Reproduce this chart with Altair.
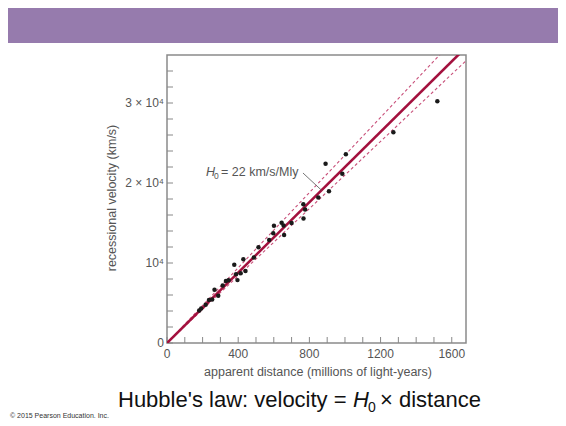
import altair as alt
import pandas as pd

# ---- data ----
distance = [181, 192, 217, 236, 254, 267, 288, 313, 331, 346,
            378, 388, 396, 414, 429, 441, 488, 514, 574, 597,
            601, 644, 655, 658, 700, 766, 776, 767, 850, 910,
            891, 985, 1005, 1272, 1519]
velocity = [4050, 4300, 4790, 5380, 5440, 6650, 5900, 7190, 7750, 7850,
            9770, 8600, 7860, 8710, 10460, 9000, 10690, 11980, 12870, 13710,
            14650, 15040, 14700, 13500, 15000, 17340, 16680, 15560, 18180, 18960,
            22400, 21150, 23590, 26340, 30210]

h0_fit = 22.0
h0_band = [21.0, 23.5]
line_ends = [0, 1680]

x_label_values = [0, 400, 800, 1200, 1600]
x_label_text = ["0", "400", "800", "1200", "1600"]
x_minor_ticks = list(range(0, 1700, 100))
y_label_values = [0, 10000, 20000, 30000]
y_label_text = ["0", "10⁴", "2 × 10⁴", "3 × 10⁴"]
y_minor_ticks = list(range(0, 36000, 2000))

x_title = "apparent distance (millions of light-years)"
y_title = "recessional velocity (km/s)"

ann_pos = [219, 21375]
leader_from = [764, 21250]
leader_to = [868, 19100]

x_domain = [0, 1680]
y_domain = [0, 36000]

FONT = "Liberation Sans"
GRAY = "#555555"

xs = alt.Scale(domain=x_domain, nice=False, zero=True)
ys = alt.Scale(domain=y_domain, nice=False, zero=True)

pts = pd.DataFrame({"d": distance, "v": velocity})

fit_df = pd.DataFrame({"d": line_ends, "v": [h0_fit * d for d in line_ends]})
band_rows = []
for k, s in enumerate(h0_band):
    for d in line_ends:
        band_rows.append({"d": d, "v": s * d, "k": k})
band_df = pd.DataFrame(band_rows)

one = pd.DataFrame({"a": [0]})

X = lambda f: alt.X(f, scale=xs, axis=None)
Y = lambda f: alt.Y(f, scale=ys, axis=None)

band = alt.Chart(one).mark_rect(color="#967bad").encode(
    x=alt.value(-159), x2=alt.value(391), y=alt.value(-47), y2=alt.value(-12)
)

xticks = alt.Chart(pd.DataFrame({"t": x_minor_ticks})).mark_rule(color="#888888", strokeWidth=1).encode(
    x=X("t:Q"), y=alt.value(288), y2=alt.value(282)
)
yticks = alt.Chart(pd.DataFrame({"t": y_minor_ticks})).mark_rule(color="#888888", strokeWidth=1).encode(
    y=Y("t:Q"), x=alt.value(0), x2=alt.value(6)
)

xlabels = alt.Chart(pd.DataFrame({"t": x_label_values, "s": x_label_text})).mark_text(
    align="center", baseline="middle", font=FONT, fontSize=12, color=GRAY).encode(
    x=X("t:Q"), y=alt.value(299), text="s:N")
ylabels = alt.Chart(pd.DataFrame({"t": y_label_values, "s": y_label_text})).mark_text(
    align="right", baseline="middle", font=FONT, fontSize=12, color=GRAY).encode(
    y=Y("t:Q"), x=alt.value(-3), text="s:N")

xtitle = alt.Chart(one).mark_text(align="center", baseline="middle", font=FONT, fontSize=12.5, color=GRAY).encode(
    x=alt.value(151), y=alt.value(317), text=alt.value(x_title))
ytitle = alt.Chart(one).mark_text(align="center", baseline="middle", font=FONT, fontSize=12.5, color=GRAY,
                                  angle=270).encode(
    x=alt.value(-55), y=alt.value(143), text=alt.value(y_title))

dashed = alt.Chart(band_df).mark_line(clip=True, color="#c8507a", strokeWidth=1.1, strokeDash=[3, 2.5]).encode(
    x=X("d:Q"), y=Y("v:Q"), detail="k:N"
)
solid = alt.Chart(fit_df).mark_line(clip=True, color="#a3113e", strokeWidth=2.6).encode(
    x=X("d:Q"), y=Y("v:Q")
)

points = alt.Chart(pts).mark_circle(color="#1a1a1a", opacity=1, size=20).encode(
    x=X("d:Q"), y=Y("v:Q")
)

leader = alt.Chart(pd.DataFrame({"d1": [leader_from[0]], "v1": [leader_from[1]],
                                 "d2": [leader_to[0]], "v2": [leader_to[1]]})).mark_rule(
    color="#666666", strokeWidth=0.9).encode(
    x=X("d1:Q"), y=Y("v1:Q"), x2="d2:Q", y2="v2:Q"
)

ann = pd.DataFrame({"d": [ann_pos[0]], "v": [ann_pos[1]]})
ann_h = alt.Chart(ann).mark_text(align="left", baseline="middle", font=FONT, fontSize=12.5,
                                 fontStyle="italic", color=GRAY).encode(
    x=X("d:Q"), y=Y("v:Q"), text=alt.value("H"))
ann_0 = alt.Chart(ann).mark_text(align="left", baseline="middle", font=FONT, fontSize=8.5,
                                 color=GRAY, dx=8, dy=4).encode(
    x=X("d:Q"), y=Y("v:Q"), text=alt.value("0"))
ann_r = alt.Chart(ann).mark_text(align="left", baseline="middle", font=FONT, fontSize=12.5,
                                 color=GRAY, dx=15).encode(
    x=X("d:Q"), y=Y("v:Q"), text=alt.value("= 22 km/s/Mly"))

cap1 = alt.Chart(one).mark_text(align="left", baseline="alphabetic", font=FONT, fontSize=22, color="#111111").encode(
    x=alt.value(-49), y=alt.value(352), text=alt.value("Hubble's law: velocity ="))
cap2 = alt.Chart(one).mark_text(align="left", baseline="alphabetic", font=FONT, fontSize=22, fontStyle="italic",
                                color="#111111").encode(
    x=alt.value(186), y=alt.value(352), text=alt.value("H"))
cap3 = alt.Chart(one).mark_text(align="left", baseline="alphabetic", font=FONT, fontSize=14, color="#111111").encode(
    x=alt.value(201), y=alt.value(357), text=alt.value("0"))
cap4 = alt.Chart(one).mark_text(align="left", baseline="alphabetic", font=FONT, fontSize=22, color="#111111").encode(
    x=alt.value(213), y=alt.value(352), text=alt.value("× distance"))
copy = alt.Chart(one).mark_text(align="left", baseline="middle", font=FONT, fontSize=7, color="#333333").encode(
    x=alt.value(-157), y=alt.value(361), text=alt.value("© 2015 Pearson Education, Inc."))

chart = alt.layer(
    band, xticks, yticks, xlabels, ylabels, xtitle, ytitle, dashed, solid, points, leader,
    ann_h, ann_0, ann_r, cap1, cap2, cap3, cap4, copy
).properties(
    width=299, height=288,
    padding={"left": 159, "top": 47, "right": 92, "bottom": 75},
    autosize=alt.AutoSizeParams(type="none"),
    background="white",
).configure_view(
    stroke="#8a8a8a", strokeWidth=1.5
)

chart.save("out.html", embed_options={"renderer": "svg", "actions": False})
